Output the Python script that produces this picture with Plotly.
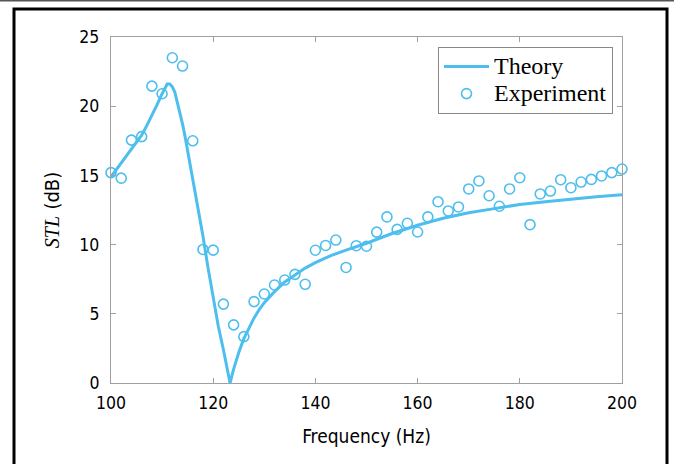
import plotly.graph_objects as go

# Experimental data (Hz, dB)
exp_freq = [100, 102, 104, 106, 108, 110, 112, 114, 116, 118, 120, 122, 124, 126, 128, 130,
            132, 134, 136, 138, 140, 142, 144, 146, 148, 150, 152, 154, 156, 158, 160, 162,
            164, 166, 168, 170, 172, 174, 176, 178, 180, 182, 184, 186, 188, 190, 192, 194,
            196, 198, 200]
exp_stl = [15.2, 14.8, 17.55, 17.8, 21.45, 20.9, 23.5, 22.9, 17.5, 9.65, 9.6, 5.7, 4.2, 3.35,
           5.88, 6.43, 7.08, 7.44, 7.85, 7.13, 9.59, 9.94, 10.33, 8.35, 9.92, 9.88, 10.9, 12.0,
           11.1, 11.54, 10.91, 12.0, 13.1, 12.43, 12.72, 14.02, 14.6, 13.53, 12.77, 14.02,
           14.83, 11.44, 13.66, 13.87, 14.69, 14.11, 14.52, 14.71, 14.96, 15.2, 15.46]

# Theoretical curve (Hz, dB)
theory_freq = [100, 101, 102, 103, 104, 105, 106, 107, 108, 109, 110, 110.5, 111, 111.5, 112,
               112.5, 113, 113.5, 114, 114.5, 115, 116, 117, 118, 119, 120, 121, 122, 123,
               123.3, 124, 125, 126, 127, 128, 129, 130, 132, 134, 136, 138, 140, 143, 146,
               150, 155, 160, 165, 170, 175, 180, 185, 190, 195, 200]
theory_stl = [14.9, 15.4, 15.9, 16.4, 16.9, 17.4, 17.9, 18.6, 19.3, 20.1, 20.9, 21.3, 21.6,
              21.6, 21.4, 21.0, 20.3, 19.5, 18.7, 17.8, 16.8, 14.8, 12.8, 10.6, 8.3, 6.1, 4.1,
              2.4, 0.6, 0.0, 1.0, 2.2, 3.2, 4.0, 4.7, 5.3, 5.8, 6.6, 7.3, 7.8, 8.3, 8.7, 9.2,
              9.6, 10.1, 10.8, 11.4, 11.9, 12.3, 12.6, 12.9, 13.1, 13.3, 13.45, 13.6]

x_ticks = [100, 120, 140, 160, 180, 200]
y_ticks = [0, 5, 10, 15, 20, 25]

COLOR = "#4DBEEE"
AXC = "#a0a0a0"
SANS = "DejaVu Sans, sans-serif"
SERIF = "Liberation Serif, Times New Roman, serif"


def cond(t):
    return '<span style="font-stretch:condensed">%s</span>' % t


def big(t):
    return '<span style="font-size:24px">%s</span>' % t


fig = go.Figure()
fig.add_trace(go.Scatter(x=theory_freq, y=theory_stl, mode="lines", name=big("Theory"),
                         line=dict(color=COLOR, width=3)))
fig.add_trace(go.Scatter(x=exp_freq, y=exp_stl, mode="markers", name=big("Experiment"),
                         cliponaxis=False,
                         marker=dict(symbol="circle-open", size=10, color=COLOR,
                                     line=dict(width=1.6, color=COLOR))))

L, R, T, B = 111, 52, 37, 81
W, H = 674, 464
pw, ph = W - L - R, H - T - B


def px(x):
    return (x - L) / pw


def py(y):
    return (H - B - y) / ph


fig.update_layout(
    width=W, height=H,
    margin=dict(l=L, r=R, t=T, b=B),
    paper_bgcolor="white", plot_bgcolor="white",
    showlegend=True,
    legend=dict(x=px(438), y=py(47), xanchor="left", yanchor="top",
                bordercolor="#888", borderwidth=1, bgcolor="white",
                font=dict(family=SERIF, size=18.5, color="black"),
                itemwidth=45, tracegroupgap=0),
    xaxis=dict(range=[100, 200], tickvals=x_ticks, ticktext=[cond(v) for v in x_ticks],
               ticks="inside", ticklen=5, ticklabelstandoff=4,
               tickcolor=AXC, showline=True, linecolor=AXC, linewidth=1.2, mirror="ticks",
               showgrid=False, zeroline=False,
               tickfont=dict(family=SANS, size=17.5, color="black"),
               title=dict(text=cond("Frequency (Hz)"), font=dict(family=SANS, size=19, color="black"),
                          standoff=17)),
    yaxis=dict(range=[0, 25], tickvals=y_ticks, ticktext=[cond(v) for v in y_ticks],
               ticks="inside", ticklen=5, ticklabelstandoff=7,
               tickcolor=AXC, showline=True, linecolor=AXC, linewidth=1.2, mirror="ticks",
               showgrid=False, zeroline=False,
               tickfont=dict(family=SANS, size=17.5, color="black"),
               title=dict(text='<span style="font-family:Liberation Serif;font-style:italic">STL</span> '
                               + cond("(dB)"),
                          font=dict(family=SANS, size=20, color="black"), standoff=14)),
    shapes=[
        dict(type="line", xref="paper", yref="paper", x0=px(-5), x1=px(W + 5), y0=py(0.5), y1=py(0.5),
             line=dict(color="#555", width=2)),
        dict(type="rect", xref="paper", yref="paper", x0=px(14), x1=px(667), y0=py(9), y1=py(H + 10),
             line=dict(color="black", width=3), fillcolor="rgba(0,0,0,0)", layer="below"),
    ],
)

fig.write_html("out.html", config={"displayModeBar": False},
               post_script="document.body.style.margin='0';")
